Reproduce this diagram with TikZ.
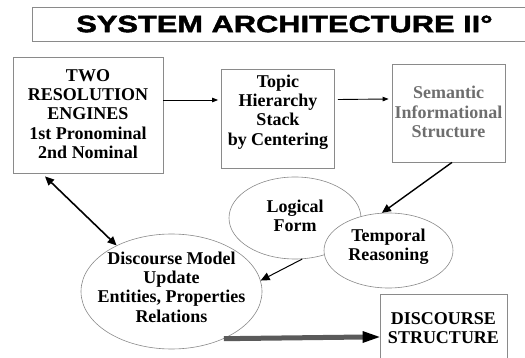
\documentclass[tikz,border=0pt]{standalone}
\usepackage{fontspec}
\setmainfont{Liberation Serif}
\newfontfamily\titlefont{Liberation Sans}[FakeStretch=1.3, BoldFeatures={FakeBold=2}]
\usetikzlibrary{shapes.geometric,arrows.meta}
\definecolor{edgegray}{HTML}{8A8A8A}
\definecolor{semgray}{HTML}{6E6E6E}
\definecolor{thickgray}{HTML}{5A5A5A}
\tikzset{
  boxshape/.style={draw=edgegray, line width=0.8pt, rectangle, inner sep=0pt},
  ellshape/.style={draw=edgegray, line width=0.6pt, ellipse, inner sep=0pt},
  lbl/.style={align=center, font=\fontsize{18}{19.3}\selectfont\bfseries, inner sep=0pt},
  thinarrow/.style={draw=black, line width=0.9pt, -{Triangle[length=6pt,width=4.5pt]}},
  midarrow/.style={draw=black, line width=1.4pt, -{Triangle[length=9pt,width=8pt]}},
  dblarrow/.style={draw=black, line width=1.6pt, {Triangle[length=9pt,width=8pt]}-{Triangle[length=9pt,width=8pt]}},
  thickline/.style={draw=thickgray, line width=5pt},
  thicktip/.style={fill=black},
}
\begin{document}
\begin{tikzpicture}[x=1pt,y=-1pt]
\useasboundingbox (0,0) rectangle (525,358);
\clip (0,0) rectangle (525,358);
% title
\node[boxshape, minimum width=500pt, minimum height=34pt, anchor=north west] (tbox) at (32,7) {};
\node[inner sep=0pt, font=\titlefont\bfseries\fontsize{23.7}{25}\selectfont] (title) at (284.5,24) {SYSTEM ARCHITECTURE II°};
% boxes
\node[boxshape, minimum width=150pt, minimum height=116pt] (b1) at (88,115) {};
\node[lbl] (t1) at (88,114) {TWO\\RESOLUTION\\ENGINES\\1st Pronominal\\2nd Nominal};
\node[boxshape, minimum width=113pt, minimum height=99pt] (b2) at (278,118.5) {};
\node[lbl] (t2) at (278,112) {Topic\\Hierarchy\\Stack\\by Centering};
\node[boxshape, minimum width=113pt, minimum height=98pt] (b3) at (448.5,113) {};
\node[lbl, text=semgray] (t3) at (448.5,112) {Semantic\\Informational\\Structure};
\node[boxshape, minimum width=127pt, minimum height=86pt] (ds) at (443.5,337) {};
\node[lbl] (t4) at (443.5,328) {DISCOURSE\\STRUCTURE};
% ellipses
\node[ellshape, minimum width=132pt, minimum height=82pt] (lf) at (295,218) {};
\node[lbl] (t5) at (295,216) {Logical\\Form};
\node[ellshape, fill=white, minimum width=129pt, minimum height=75pt] (tr) at (388.5,250.5) {};
\node[lbl] (t6) at (388.5,247) {Temporal\\Reasoning};
\node[ellshape, minimum width=181pt, minimum height=115pt] (dm) at (171.5,291.5) {};
\node[lbl] (t7) at (171.5,287) {Discourse Model\\Update\\Entities, Properties\\Relations};
% connectors
\draw[thinarrow] ([yshift=15pt]b1.east) -- ([yshift=18.5pt,xshift=-3pt]b2.west);
\draw[thinarrow] ([yshift=19pt,xshift=3pt]b2.east) -- ([yshift=14pt,xshift=-3pt]b3.west);
\draw[midarrow] ([xshift=3.5pt]b3.south) -- (tr.100);
\draw[midarrow, line width=1pt] (lf.-80) -- (dm.7);
\draw[dblarrow] ([xshift=-43pt,yshift=-3pt]b1.south) -- (dm.140);
\draw[thickline] (dm.-42) -- ([xshift=-15pt]ds.west);
\fill[thicktip] (ds.west) -- ++(-17,-6) -- ++(0,12) -- cycle;
\end{tikzpicture}
\end{document}
